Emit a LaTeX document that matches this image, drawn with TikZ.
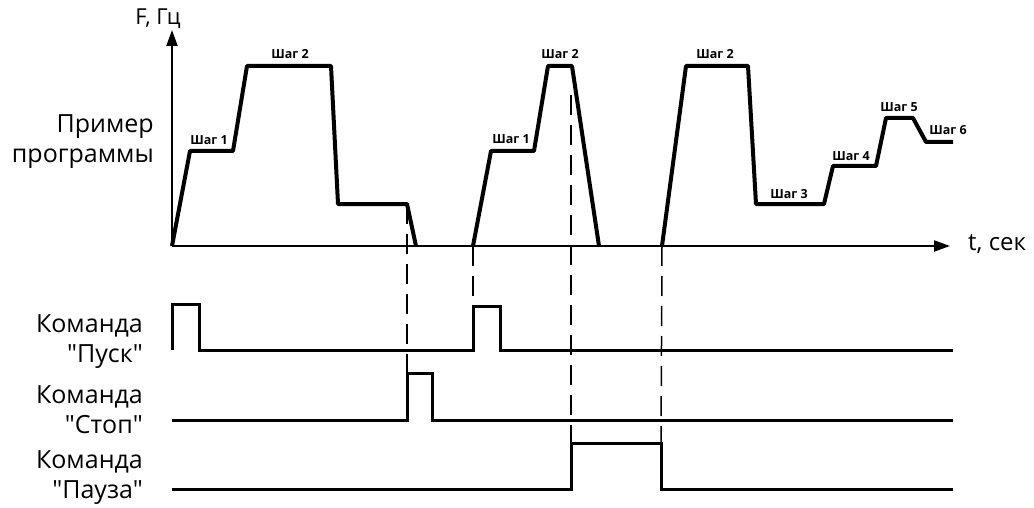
\documentclass[tikz,border=0pt]{standalone}
\usepackage{fontspec}
\setmainfont{Open Sans}[Ligatures=TeXOff]
\usetikzlibrary{arrows.meta}
\tikzstyle{profile} = [line width=4pt, line join=round]
\tikzstyle{signal} = [line width=3pt, line join=miter]
\tikzstyle{guide} = [line width=1.5pt, dash pattern=on 20pt off 10pt]
\tikzstyle{axis} = [line width=2pt, -{Triangle[length=16pt,width=11pt]}]
\tikzstyle{steplabel} = [font=\bfseries\fontsize{12.5}{14}\selectfont, inner sep=0pt]
\tikzstyle{biglabel} = [font=\fontsize{25}{30}\selectfont, align=right, anchor=east, inner sep=0pt]

\begin{document}
\begin{tikzpicture}[x=1pt,y=-1pt]
	\useasboundingbox (0,0) rectangle (1034,508);
	% axes
	\coordinate (o) at (172,246);
	\draw[axis] (o) -- (172,30);
	\draw[axis] (o) -- (950,246);
	\node (fhz) at (158,19) {\fontsize{22}{26}\selectfont F, Гц};
	\node[anchor=west, inner sep=0pt] (tsec) at (968,244) {\fontsize{24}{28}\selectfont t, сек};
	\node[biglabel] (prog) at (154,142) {Пример\\программы};
	
	% program profile
	\draw[profile] (o) -- (190,151) -- (233,151) -- (247,66) -- (331,66) -- (338,204)
		-- (407,204) coordinate (stop1) -- (416,246);
	\draw[profile] (473,246) coordinate (start2) -- (491,151) -- (534,151) -- (548,66)
		-- (572,66) -- (599,246);
	\draw[profile] (662,246) coordinate (start3) -- (686,66) -- (748,66) -- (756,204)
		-- (824,204) -- (833,166) -- (876,166) -- (886,118) -- (913,118) -- (926,142) -- (953,142);
	\coordinate (pause1) at (571,95);
	
	\node[steplabel] (s1a) at (209,140) {Шаг 1};
	\node[steplabel] (s2a) at (290,54) {Шаг 2};
	\node[steplabel] (s1b) at (511,139) {Шаг 1};
	\node[steplabel] (s2b) at (560,54) {Шаг 2};
	\node[steplabel] (s2c) at (715,54) {Шаг 2};
	\node[steplabel] (s3) at (789,194) {Шаг 3};
	\node[steplabel] (s4) at (851,156) {Шаг 4};
	\node[steplabel] (s5) at (899,107) {Шаг 5};
	\node[steplabel] (s6) at (948,130) {Шаг 6};
	
	% commands
	\node[biglabel] (pusk) at (143,342) {Команда\\"Пуск"};
	\node[biglabel] (stop) at (143,410) {Команда\\"Стоп"};
	\node[biglabel] (pauza) at (143,478) {Команда\\"Пауза"};
	
	\draw[signal] (172,350) -- (172,304) -- (199,304) -- (199,350) -- (473,350)
		-- (473,306) coordinate (pusk2) -- (500,306) -- (500,350) -- (953,350);
	\draw[signal] (172,420) -- (407,420) -- (407,373) coordinate (stopup) -- (432,373)
		-- (432,420) -- (953,420);
	\draw[signal] (172,489) -- (571,489) -- (571,443) coordinate (pauseup) -- (661,443) coordinate (pausedown)
		-- (661,489) -- (953,489);
	
	% guide lines
	\draw[guide] (stop1) -- (stopup);
	\draw[guide] (start2) -- (pusk2);
	\draw[guide] (pause1) -- (pauseup);
	\draw[guide] (start3) -- (pausedown);
\end{tikzpicture}
\end{document}
